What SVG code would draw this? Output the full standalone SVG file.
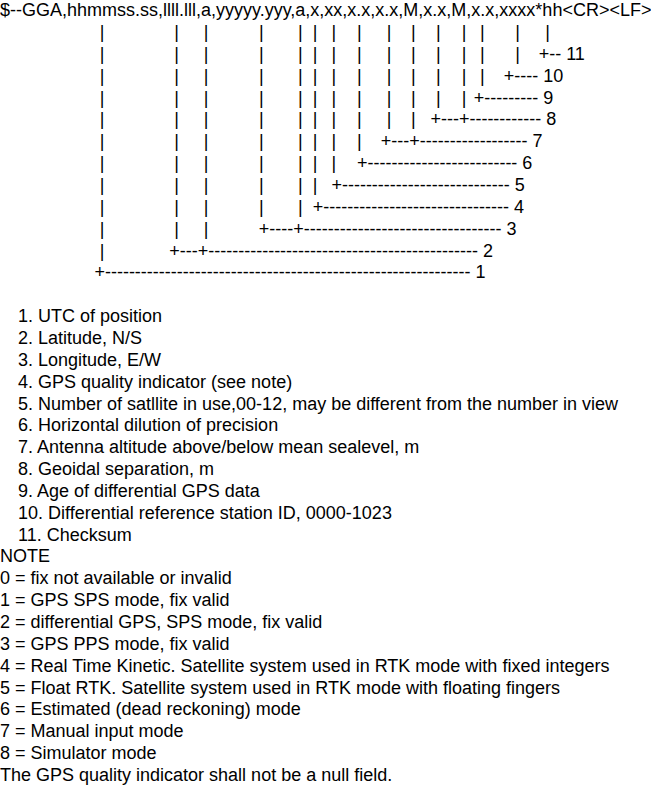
<svg xmlns="http://www.w3.org/2000/svg" width="651" height="786" viewBox="0 0 651 786">
<style>
text{font-family:"Liberation Sans",Arial,sans-serif;font-size:18px;fill:#000}
.p{text-anchor:middle}
</style>
<rect width="651" height="786" fill="#fff"/>
<g id="header"><text x="0" y="16.2">$--GGA,hhmmss.ss,llll.lll,a,yyyyy.yyy,a,x,xx,x.x,x.x,M,x.x,M,x.x,xxxx*hh&lt;CR&gt;&lt;LF&gt;</text></g>
<g id="connectors">
<text class="p" x="102 176.5 206 261.3 300.3 315 333.8 359.3 389 413.3 438.3 464 482.3 517.7 547.7" y="38.05">|||||||||||||||</text>
<text class="p" x="102 176.5 206 261.3 300.3 315 333.8 359.3 389 413.3 438.3 464 482.3 517.7" y="59.9">||||||||||||||</text>
<text class="p" x="102 176.5 206 261.3 300.3 315 333.8 359.3 389 413.3 438.3 464 482.3" y="81.75">|||||||||||||</text>
<text class="p" x="102 176.5 206 261.3 300.3 315 333.8 359.3 389 413.3 438.3 464" y="103.6">||||||||||||</text>
<text class="p" x="102 176.5 206 261.3 300.3 315 333.8 359.3 389 413.3" y="125.45">||||||||||</text>
<text class="p" x="102 176.5 206 261.3 300.3 315 333.8 359.3" y="147.3">||||||||</text>
<text class="p" x="102 176.5 206 261.3 300.3 315 333.8" y="169.15">|||||||</text>
<text class="p" x="102 176.5 206 261.3 300.3 315" y="191">||||||</text>
<text class="p" x="102 176.5 206 261.3 300.3" y="212.85">|||||</text>
<text class="p" x="102 176.5 206" y="234.7">|||</text>
<text class="p" x="102" y="256.55">|</text>
<text x="538.7" y="59.9">+-- 11</text>
<text x="503.7" y="81.75">+---- 10</text>
<text x="473.7" y="103.6">+--------- 9</text>
<text x="430.4" y="125.45">+---+------------ 8</text>
<text x="380.7" y="147.3">+---+------------------ 7</text>
<text x="357" y="169.15">+------------------------- 6</text>
<text x="331.4" y="191">+---------------------------- 5</text>
<text x="312.7" y="212.85">+------------------------------- 4</text>
<text x="258.7" y="234.7">+----+--------------------------------- 3</text>
<text x="169.2" y="256.55">+---+--------------------------------------------- 2</text>
<text x="94.4" y="278.4">+------------------------------------------------------------- 1</text>
</g>
<g id="fields">
<text x="18" y="322.1">1. UTC of position</text>
<text x="18" y="343.95">2. Latitude, N/S</text>
<text x="18" y="365.8">3. Longitude, E/W</text>
<text x="18" y="387.65">4. GPS quality indicator (see note)</text>
<text x="18" y="409.5">5. Number of satllite in use,00-12, may be different from the number in view</text>
<text x="18" y="431.35">6. Horizontal dilution of precision</text>
<text x="18" y="453.2">7. Antenna altitude above/below mean sealevel, m</text>
<text x="18" y="475.05">8. Geoidal separation, m</text>
<text x="18" y="496.9">9. Age of differential GPS data</text>
<text x="18" y="518.75">10. Differential reference station ID, 0000-1023</text>
<text x="18" y="540.6">11. Checksum</text>
</g>
<g id="note">
<text x="0" y="562.45">NOTE</text>
<text x="0" y="584.3">0 = fix not available or invalid</text>
<text x="0" y="606.15">1 = GPS SPS mode, fix valid</text>
<text x="0" y="628">2 = differential GPS, SPS mode, fix valid</text>
<text x="0" y="649.85">3 = GPS PPS mode, fix valid</text>
<text x="0" y="671.7">4 = Real Time Kinetic. Satellite system used in RTK mode with fixed integers</text>
<text x="0" y="693.55">5 = Float RTK. Satellite system used in RTK mode with floating fingers</text>
<text x="0" y="715.4">6 = Estimated (dead reckoning) mode</text>
<text x="0" y="737.25">7 = Manual input mode</text>
<text x="0" y="759.1">8 = Simulator mode</text>
<text x="0" y="780.95">The GPS quality indicator shall not be a null field.</text>
</g>
</svg>
